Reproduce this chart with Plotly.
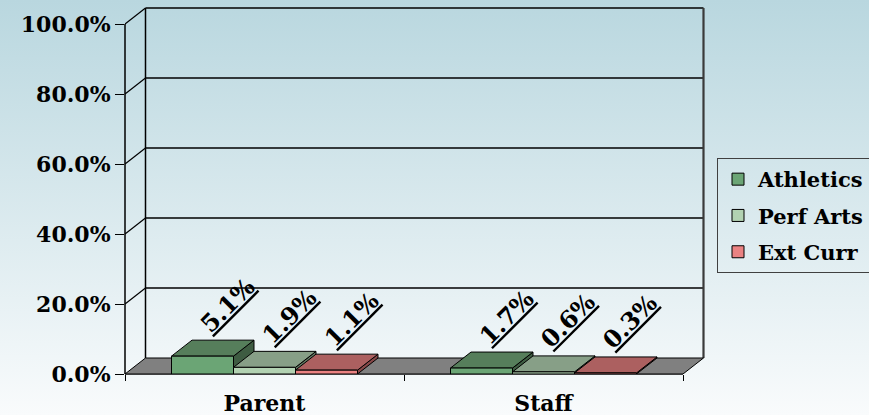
import base64
import plotly.graph_objects as go

# ---- data -------------------------------------------------------------
categories = ["Parent", "Staff"]
series_names = ["Athletics", "Perf Arts", "Ext Curr"]
athletics = [5.1, 1.7]
perf_arts = [1.9, 0.6]
ext_curr = [1.1, 0.3]
y_tick_values = [0, 20, 40, 60, 80, 100]

series_values = [athletics, perf_arts, ext_curr]

# ---- styling ----------------------------------------------------------
front_colors = ["#6ba575", "#b2d2b2", "#ea8282"]
top_colors = ["#567e5b", "#879f87", "#ac6060"]
side_colors = ["#3e5c42", "#637963", "#874848"]
FONT = "DejaVu Serif"

W, H = 869, 415
L, R, T, B = 125, 163, 5, 41
plot_w = W - L - R
plot_h = H - T - B
PX_PER_CAT = 279          # pixels per category slot
PX_PER_FULL = 350         # pixels for 0% .. 100%
X_RANGE = [-0.5, -0.5 + plot_w / PX_PER_CAT]
Y_RANGE = [0, plot_h / PX_PER_FULL]
DX = 20.5 / PX_PER_CAT    # depth offset of the 3-D box, x units
DY = 16 / PX_PER_FULL     # depth offset of the 3-D box, y units
BARGAP = 1 / 3
n_series = len(series_names)
bar_w = (1 - BARGAP) / n_series


def bar_left(cat_idx, s_idx):
    return cat_idx - (1 - BARGAP) / 2 + s_idx * bar_w


def path(points):
    return "M " + " L ".join(f"{x:.5f},{y:.5f}" for x, y in points) + " Z"


fig = go.Figure()

# front faces of the bars
for s_idx, (name, vals) in enumerate(zip(series_names, series_values)):
    fig.add_trace(go.Bar(
        x=categories,
        y=[v / 100 for v in vals],
        name=name,
        legendgroup=name,
        marker=dict(color=front_colors[s_idx], line=dict(color="black", width=1)),
        hoverinfo="skip",
    ))

shapes = []
x_left, x_right = -0.5, len(categories) - 0.5

# left wall: top edge / grid diagonals and back-left corner
for t in y_tick_values[1:]:
    v = t / 100
    shapes.append(dict(type="line", xref="x", yref="y", layer="below",
                       x0=x_left, y0=v, x1=x_left + DX, y1=v + DY,
                       line=dict(color="black", width=1.2)))
shapes.append(dict(type="line", xref="x", yref="y", layer="below",
                   x0=x_left + DX, y0=DY, x1=x_left + DX, y1=1 + DY,
                   line=dict(color="black", width=1.5)))
# back wall gridlines
for t in y_tick_values[1:]:
    v = t / 100
    shapes.append(dict(type="line", xref="x", yref="y", layer="below",
                       x0=x_left + DX, y0=v + DY, x1=x_right + DX, y1=v + DY,
                       line=dict(color="black", width=1.4)))
# back-right edge
shapes.append(dict(type="line", xref="x", yref="y", layer="below",
                   x0=x_right + DX, y0=DY, x1=x_right + DX, y1=1 + DY,
                   line=dict(color="#3a3a3a", width=2.2)))
# floor
shapes.append(dict(type="path", xref="x", yref="y", layer="below",
                   path=path([(x_left, 0), (x_right, 0), (x_right + DX, DY), (x_left + DX, DY)]),
                   fillcolor="#808080", line=dict(color="black", width=1)))
# front edges (kept outside the subplot clip so they draw at full width)
shapes.append(dict(type="line", xref="paper", yref="y", layer="below",
                   x0=0, x1=0, y0=0, y1=1, line=dict(color="black", width=1.5)))
shapes.append(dict(type="line", xref="x", yref="paper", layer="below",
                   x0=x_left, x1=x_right, y0=0, y1=0, line=dict(color="black", width=1.5)))

# side and top faces of the bars
for c_idx in range(len(categories)):
    for s_idx, vals in enumerate(series_values):
        v = vals[c_idx] / 100
        x0 = bar_left(c_idx, s_idx)
        x1 = x0 + bar_w
        shapes.append(dict(type="path", xref="x", yref="y", layer="below",
                           path=path([(x1, 0), (x1, v), (x1 + DX, v + DY), (x1 + DX, DY)]),
                           fillcolor=side_colors[s_idx], line=dict(color="black", width=1)))
        shapes.append(dict(type="path", xref="x", yref="y", layer="below",
                           path=path([(x0, v), (x1, v), (x1 + DX, v + DY), (x0 + DX, v + DY)]),
                           fillcolor=top_colors[s_idx], line=dict(color="black", width=1)))

# value labels
annotations = []
for c_idx in range(len(categories)):
    for s_idx, vals in enumerate(series_values):
        v = vals[c_idx]
        xc = bar_left(c_idx, s_idx) + bar_w / 2 + DX
        annotations.append(dict(
            x=xc, y=v / 100 + DY, xref="x", yref="y",
            text=f"{v:.1f}%", showarrow=False, textangle=-45,
            xanchor="center", yanchor="middle", xshift=4, yshift=35,
            font=dict(family=FONT, size=24, weight="bold", color="black",
                      lineposition="under"),
        ))

# soft vertical background gradient
svg = (
    f'<svg xmlns="http://www.w3.org/2000/svg" width="{W}" height="{H}" '
    f'viewBox="0 0 {W} {H}" preserveAspectRatio="none">'
    '<defs><linearGradient id="g" x1="0" y1="0" x2="0" y2="1">'
    '<stop offset="0" stop-color="#b9d7df"/>'
    '<stop offset="1" stop-color="#f9fbfc"/>'
    '</linearGradient></defs>'
    f'<rect width="{W}" height="{H}" fill="url(#g)"/></svg>'
)
bg_src = "data:image/svg+xml;base64," + base64.b64encode(svg.encode()).decode()

fig.update_layout(
    width=W, height=H,
    margin=dict(l=L, r=R, t=T, b=B, pad=0, autoexpand=False),
    paper_bgcolor="#f9fbfc",
    plot_bgcolor="rgba(0,0,0,0)",
    barmode="group",
    bargap=BARGAP,
    bargroupgap=0,
    shapes=shapes,
    annotations=annotations,
    images=[dict(source=bg_src, xref="paper", yref="paper",
                 x=-L / plot_w, y=1 + T / plot_h,
                 sizex=W / plot_w, sizey=H / plot_h,
                 xanchor="left", yanchor="top", sizing="stretch", layer="below")],
    showlegend=True,
    legend=dict(
        x=(717 - L) / plot_w, y=(H - B - 158) / plot_h,
        xanchor="left", yanchor="top",
        bgcolor="rgba(0,0,0,0)", bordercolor="#404040", borderwidth=1,
        font=dict(family=FONT, size=21, weight="bold", color="black"),
        tracegroupgap=6,
    ),
    xaxis=dict(
        range=X_RANGE, type="category", showgrid=False, zeroline=False,
        showline=False, ticks="outside", tickson="boundaries", ticklen=6,
        tickcolor="black", tickwidth=1, automargin=False,
        tickfont=dict(family=FONT, size=22, weight="bold", color="black"),
        ticklabelstandoff=14,
    ),
    yaxis=dict(
        range=Y_RANGE, showgrid=False, zeroline=False, showline=False,
        tickvals=[t / 100 for t in y_tick_values], tickformat=".1%",
        ticks="outside", ticklen=9, tickcolor="black", tickwidth=1,
        automargin=False,
        tickfont=dict(family=FONT, size=22, weight="bold", color="black"),
        ticklabelstandoff=0,
    ),
)

fig.write_html("out.html")
